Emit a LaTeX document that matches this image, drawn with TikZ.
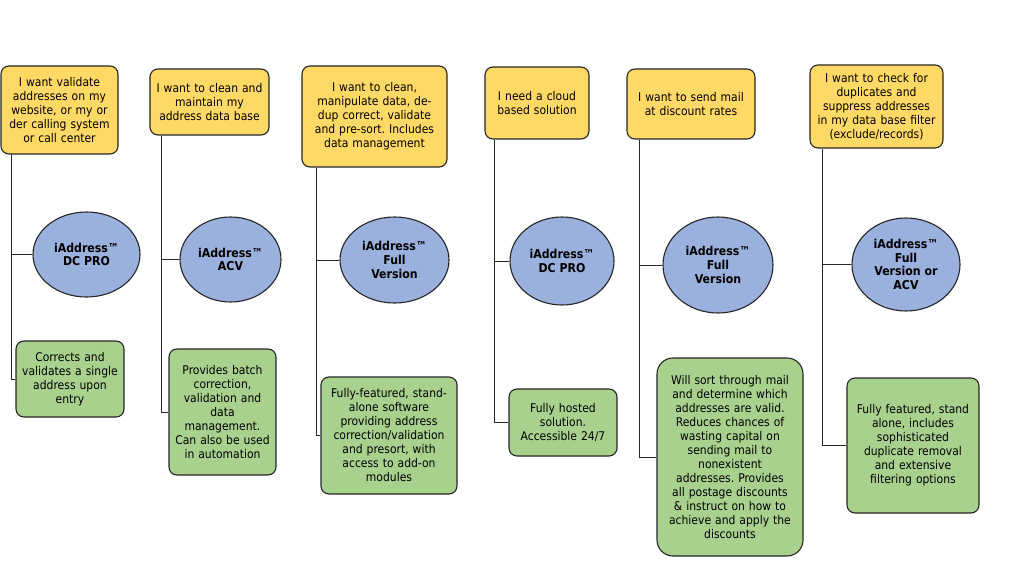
\documentclass[tikz,border=0pt]{standalone}
\usepackage{fontspec}
\setmainfont{DejaVu Sans Condensed}
\usetikzlibrary{shapes.geometric}
\definecolor{qyellow}{HTML}{FFD966}
\definecolor{qblue}{HTML}{9BB1DD}
\definecolor{qgreen}{HTML}{A9D18E}
\definecolor{qline}{HTML}{262626}
\frenchspacing
\tikzset{
  x=1pt, y=-1pt,
  boxbase/.style={draw=qline, line width=1.1pt, rounded corners=8pt, align=center, inner sep=1pt,
    font=\fontsize{12}{14}\selectfont},
  need/.style={boxbase, fill=qyellow},
  desc/.style={boxbase, fill=qgreen},
  prod/.style={ellipse, draw=qline, line width=1.1pt, fill=qblue, align=center, inner sep=0pt,
    font=\fontsize{12.2}{13.6}\selectfont\bfseries},
  conn/.style={draw=qline, line width=0.9pt},
}
\begin{document}
\begin{tikzpicture}
\useasboundingbox (0,0) rectangle (1024,564);
\fill[white] (0,0) rectangle (1024,564);
% column 1
\node[need, minimum width=117pt, minimum height=88pt, text width=115pt] (y1) at (59.5,110)
  {I want validate\\addresses on my\\website, or my or\\der calling system\\or call center};
\node[prod, minimum width=107pt, minimum height=85pt] (e1) at (86.5,254.5) {iAddress™\\DC PRO};
\node[desc, minimum width=108pt, minimum height=76pt, text width=106pt] (g1) at (70,379)
  {Corrects and\\validates a single\\address upon\\entry};
% column 2
\node[need, minimum width=119pt, minimum height=66pt, text width=117pt] (y2) at (209.5,102)
  {I want to clean and\\maintain my\\address data base};
\node[prod, minimum width=101pt, minimum height=85pt] (e2) at (230.5,259.5) {iAddress™\\ACV};
\node[desc, minimum width=107pt, minimum height=126pt, text width=105pt] (g2) at (222.5,412)
  {Provides batch\\correction,\\validation and\\data\\management.\\Can also be used\\in automation};
% column 3
\node[need, minimum width=145pt, minimum height=101pt, text width=143pt] (y3) at (374.5,116.5)
  {I want to clean,\\manipulate data, de-\\dup correct, validate\\and pre-sort. Includes\\data management};
\node[prod, minimum width=109pt, minimum height=86pt] (e3) at (394.5,260) {iAddress™\\Full\\Version};
\node[desc, minimum width=136pt, minimum height=117pt, text width=134pt] (g3) at (389,435.5)
  {Fully-featured, stand-\\alone software\\providing address\\correction/validation\\and presort, with\\access to add-on\\modules};
% column 4
\node[need, minimum width=104pt, minimum height=72pt, text width=102pt] (y4) at (537,103)
  {I need a cloud\\based solution};
\node[prod, minimum width=104pt, minimum height=88pt] (e4) at (562,261) {iAddress™\\DC PRO};
\node[desc, minimum width=108pt, minimum height=67pt, text width=106pt] (g4) at (563,422.5)
  {Fully hosted\\solution.\\Accessible 24/7};
% column 5
\node[need, minimum width=128pt, minimum height=70pt, text width=126pt] (y5) at (691,104)
  {I want to send mail\\at discount rates};
\node[prod, minimum width=110pt, minimum height=96pt] (e5) at (718,265) {iAddress™\\Full\\Version};
\node[desc, rounded corners=16pt, minimum width=146pt, minimum height=198pt, text width=144pt] (g5) at (730,457)
  {Will sort through mail\\and determine which\\addresses are valid.\\Reduces chances of\\wasting capital on\\sending mail to\\nonexistent\\addresses. Provides\\all postage discounts\\\& instruct on how to\\achieve and apply the\\discounts};
% column 6
\node[need, minimum width=133pt, minimum height=83pt, text width=131pt] (y6) at (876.5,106.5)
  {I want to check for\\duplicates and\\suppress addresses\\in my data base filter\\(exclude/records)};
\node[prod, minimum width=108pt, minimum height=93pt] (e6) at (906,264.5) {iAddress™\\Full\\Version or\\ACV};
\node[desc, minimum width=132pt, minimum height=135pt, text width=130pt] (g6) at (913,445.5)
  {Fully featured, stand\\alone, includes\\sophisticated\\duplicate removal\\and extensive\\filtering options};
% trunks
\coordinate (t1) at ([xshift=11pt]y1.south west);
\coordinate (t2) at ([xshift=12pt]y2.south west);
\coordinate (t3) at ([xshift=15pt]y3.south west);
\coordinate (t4) at ([xshift=10pt]y4.south west);
\coordinate (t5) at ([xshift=13pt]y5.south west);
\coordinate (t6) at ([xshift=13pt]y6.south west);
\foreach \i in {1,...,6} {
  \draw[conn] (t\i) |- (g\i.west);
  \draw[conn] (e\i.west) -- (e\i.west -| t\i);
}
\end{tikzpicture}
\end{document}
